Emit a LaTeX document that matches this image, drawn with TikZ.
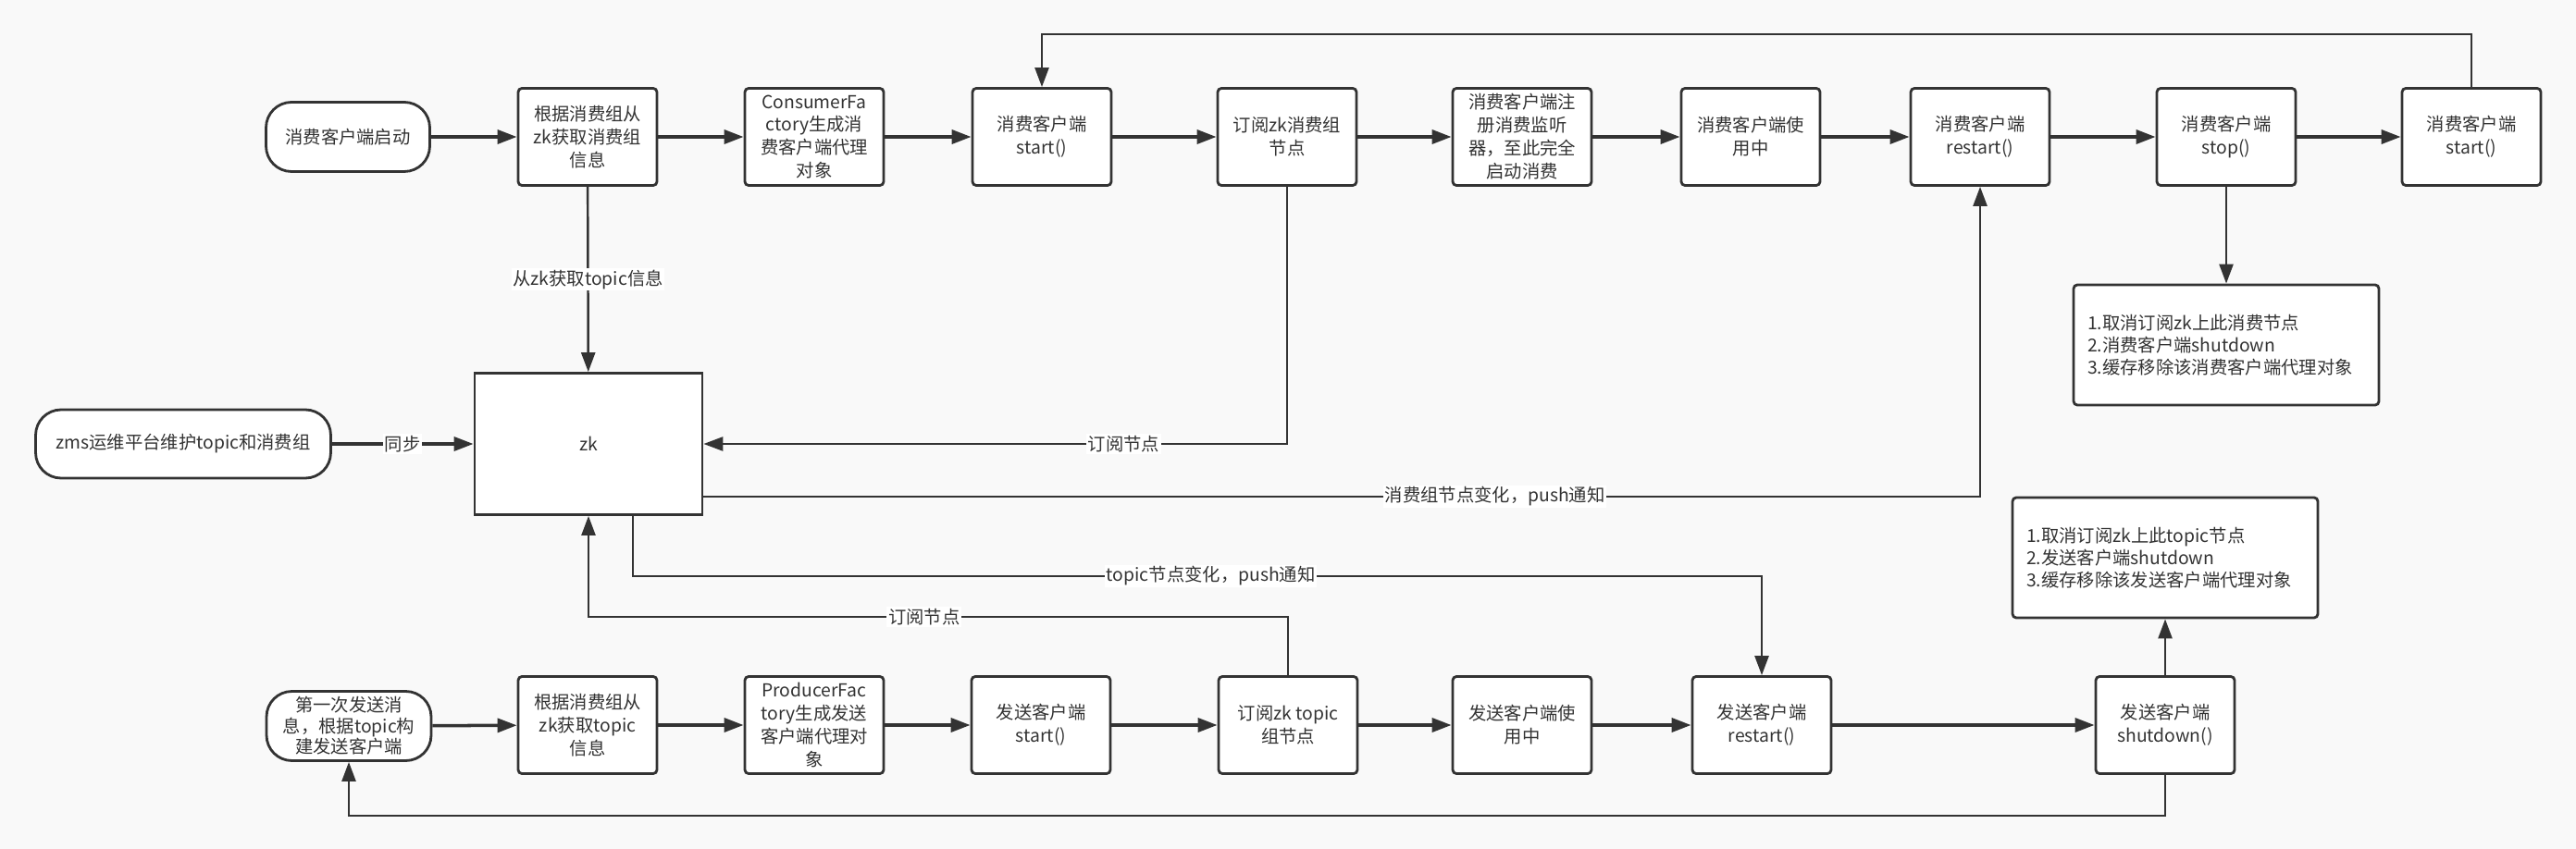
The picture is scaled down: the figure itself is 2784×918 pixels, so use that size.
\documentclass[tikz,border=0pt]{standalone}
\usepackage{fontspec}
\setmainfont{Noto Sans CJK SC}
\usetikzlibrary{arrows.meta}
\definecolor{ink}{HTML}{333333}
\definecolor{paper}{HTML}{F9F9F9}

\begin{document}
\begin{tikzpicture}[x=0.02cm, y=-0.02cm,
  every node/.style={font=\fontsize{11pt}{14.2pt}\selectfont, text=ink},
  box/.style={draw=ink, fill=white, line width=1.6pt, rounded corners=0.08cm, minimum width=3cm, minimum height=2.1cm, align=center, inner sep=1pt},
  term/.style={draw=ink, fill=white, line width=1.6pt, rounded corners=0.55cm, minimum height=1.5cm, align=center, inner sep=1pt},
  note/.style={draw=ink, fill=white, line width=1.6pt, rounded corners=0.08cm, minimum width=6.6cm, minimum height=2.6cm, text width=6cm, align=left, font=\fontsize{11pt}{13.6pt}\selectfont},
  flow/.style={draw=ink, line width=2pt, -{Triangle[length=0.42cm,width=0.3cm]}},
  link/.style={draw=ink, line width=1.4pt, -{Triangle[length=0.42cm,width=0.3cm]}},
  lbl/.style={fill=white, inner sep=1pt}]
\fill[paper] (0,0) rectangle (2784,918);

% Consumer row
\node[term, minimum width=3.54cm] (cstart) at (376,148) {消费客户端启动};
\node[box] (cfind) at (635,148) {根据消费组从\\zk获取消费组\\信息};
\node[box] (cfac) at (880,148) {ConsumerFa\\ctory生成消\\费客户端代理\\对象};
\node[box] (cst) at (1126,148) {消费客户端\\start()};
\node[box] (csub) at (1391,148) {订阅zk消费组\\节点};
\node[box] (creg) at (1645,148) {消费客户端注\\册消费监听\\器，至此完全\\启动消费};
\node[box] (cuse) at (1892,148) {消费客户端使\\用中};
\node[box] (crst) at (2140,148) {消费客户端\\restart()};
\node[box] (cstop) at (2406,148) {消费客户端\\stop()};
\node[box] (cagain) at (2671,148) {消费客户端\\start()};
\node[note] (cnote) at (2406,373) {1.取消订阅zk上此消费节点\\2.消费客户端shutdown\\3.缓存移除该消费客户端代理对象};

% zk
\node[draw=ink, fill=white, line width=1.6pt, minimum width=4.92cm, minimum height=3.06cm] (zk) at (636,480) {zk};
\node[term, minimum width=6.38cm, minimum height=1.48cm] (zms) at (198,480) {zms运维平台维护topic和消费组};

% Producer row
\node[term, minimum width=3.56cm, inner sep=0pt, font=\fontsize{11pt}{12.8pt}\selectfont] (pstart) at (377,785) {第一次发送消\\息，根据topic构\\建发送客户端};
\node[box] (pfind) at (635,784) {根据消费组从\\zk获取topic\\信息};
\node[box] (pfac) at (880,784) {ProducerFac\\tory生成发送\\客户端代理对\\象};
\node[box] (pst) at (1125,784) {发送客户端\\start()};
\node[box] (psub) at (1392,784) {订阅zk topic\\组节点};
\node[box] (puse) at (1645,784) {发送客户端使\\用中};
\node[box] (prst) at (1904,784) {发送客户端\\restart()};
\node[box] (pshut) at (2340,784) {发送客户端\\shutdown()};
\node[note] (pnote) at (2340,603) {1.取消订阅zk上此topic节点\\2.发送客户端shutdown\\3.缓存移除该发送客户端代理对象};

% Bend levels
\coordinate (topY) at (0,37);
\coordinate (chgY) at (0,623);
\coordinate (subY) at (0,667);
\coordinate (botY) at (0,882);

% Arrows
\draw[flow] (cstart) -- (cfind);
\draw[flow] (cfind) -- (cfac);
\draw[flow] (cfac) -- (cst);
\draw[flow] (cst) -- (csub);
\draw[flow] (csub) -- (creg);
\draw[flow] (creg) -- (cuse);
\draw[flow] (cuse) -- (crst);
\draw[flow] (crst) -- (cstop);
\draw[flow] (cstop) -- (cagain);
\draw[link] (cagain) -- (cagain |- topY) -| (cst);
\draw[link] (cstop) -- (cnote);

\draw[link] (cfind) -- node[lbl] {从zk获取topic信息} (zk);
\draw[flow] (zms) -- node[lbl] {同步} (zk);
\draw[link] (csub) |- node[lbl, pos=0.64] {订阅节点} (zk);
\draw[link] ([yshift=-1.14cm]zk.east) -| node[lbl, pos=0.31] {消费组节点变化，push通知} (crst);

\draw[flow] (pstart) -- (pfind);
\draw[flow] (pfind) -- (pfac);
\draw[flow] (pfac) -- (pst);
\draw[flow] (pst) -- (psub);
\draw[flow] (psub) -- (puse);
\draw[flow] (puse) -- (prst);
\draw[flow] (prst) -- (pshut);
\draw[link] (pshut) -- (pnote);
\draw[link] (pshut) -- (pshut |- botY) -| (pstart);

\draw[link] (psub) -- (psub |- subY) -| node[lbl, pos=0.26] {订阅节点} (zk);
\draw[link] ([xshift=0.96cm]zk.south) |- node[lbl, pos=0.756] {topic节点变化，push通知} (prst |- chgY) -- (prst);

\end{tikzpicture}
\end{document}
